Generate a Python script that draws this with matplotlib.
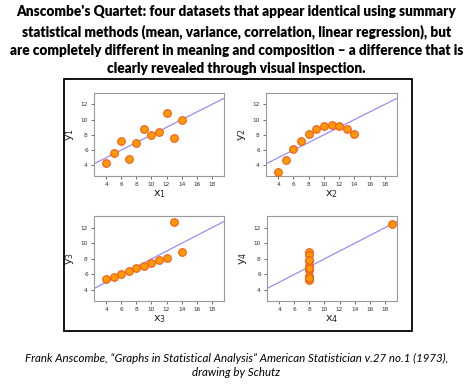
import matplotlib
matplotlib.use("Agg")
import matplotlib.pyplot as plt
from matplotlib.patches import Rectangle
import numpy as np

plt.rcParams["mathtext.fontset"] = "custom"
plt.rcParams["mathtext.rm"] = "DejaVu Sans"
plt.rcParams["mathtext.it"] = "DejaVu Sans"

x1 = [10, 8, 13, 9, 11, 14, 6, 4, 12, 7, 5]
y1 = [8.04, 6.95, 7.58, 8.81, 8.33, 9.96, 7.24, 4.26, 10.84, 4.82, 5.68]
x2 = [10, 8, 13, 9, 11, 14, 6, 4, 12, 7, 5]
y2 = [9.14, 8.14, 8.74, 8.77, 9.26, 8.10, 6.13, 3.10, 9.13, 7.26, 4.74]
x3 = [10, 8, 13, 9, 11, 14, 6, 4, 12, 7, 5]
y3 = [7.46, 6.77, 12.74, 7.11, 7.81, 8.84, 6.08, 5.39, 8.15, 6.42, 5.73]
x4 = [8, 8, 8, 8, 8, 8, 8, 19, 8, 8, 8]
y4 = [6.58, 5.76, 7.71, 8.84, 8.47, 7.04, 5.25, 12.50, 5.56, 7.91, 6.89]
fit_intercept = 3.0
fit_slope = 0.5
xticks = [4, 6, 8, 10, 12, 14, 16, 18]
yticks = [4, 6, 8, 10, 12]

title = ("Anscombe's Quartet: four datasets that appear identical using summary\n"
         "statistical methods (mean, variance, correlation, linear regression), but\n"
         "are completely different in meaning and composition \u2013 a difference that is\n"
         "clearly revealed through visual inspection.")
caption = ("Frank Anscombe, \u201cGraphs in Statistical Analysis\u201d American Statistician v.27 no.1 (1973),\n"
           "drawing by Schutz")

W, H = 473, 385
fig = plt.figure(figsize=(W / 100, H / 100), dpi=100)

def ax_rect(l, t, r, b):
    return [l / W, 1 - b / H, (r - l) / W, (b - t) / H]

fig.text(0.5, 1 - 5.5 / H, title, ha="center", va="top", fontsize=9.85,
         fontweight="heavy", family="Lato", linespacing=1.47)
fig.text(0.5, 1 - 352.5 / H, caption, ha="center", va="top", fontsize=8.3,
         style="italic", family="Lato", linespacing=1.4)

fig.add_artist(Rectangle((64 / W, 1 - 331 / H), (412 - 64) / W, (331 - 79) / H,
                         transform=fig.transFigure, fill=False, edgecolor="black",
                         linewidth=1.3))

panels = [
    (x1, y1, "1", (94, 93, 224, 176)),
    (x2, y2, "2", (266, 93, 397, 176)),
    (x3, y3, "3", (94, 216, 224, 301)),
    (x4, y4, "4", (267, 216, 397, 301)),
]

for xs, ys, idx, rect in panels:
    ax = fig.add_axes(ax_rect(*rect))
    xlim = (2.4, 19.6)
    ax.set_xlim(*xlim)
    ax.set_ylim(2.6, 13.5)
    lx = np.array(xlim)
    ax.plot(lx, fit_intercept + fit_slope * lx, color="#9a8cf5", lw=0.9, zorder=2)
    ax.scatter(xs, ys, s=30, facecolor="#ff9a00", edgecolor="#f25a1e",
               linewidths=0.8, zorder=3)
    ax.set_xticks(xticks)
    ax.set_yticks(yticks)
    ax.tick_params(labelsize=4.2, colors="#333333", length=2.5, width=0.5,
                   pad=2)
    for sp in ax.spines.values():
        sp.set_color("#999999")
        sp.set_linewidth(0.8)
    ax.set_xlabel(r"$\mathrm{x_%s}$" % idx, fontsize=8, labelpad=1,
                  color="#222222")
    ax.set_ylabel(r"$\mathrm{y_%s}$" % idx, fontsize=8, labelpad=3,
                  color="#222222")

fig.savefig("out.png", dpi=100)
